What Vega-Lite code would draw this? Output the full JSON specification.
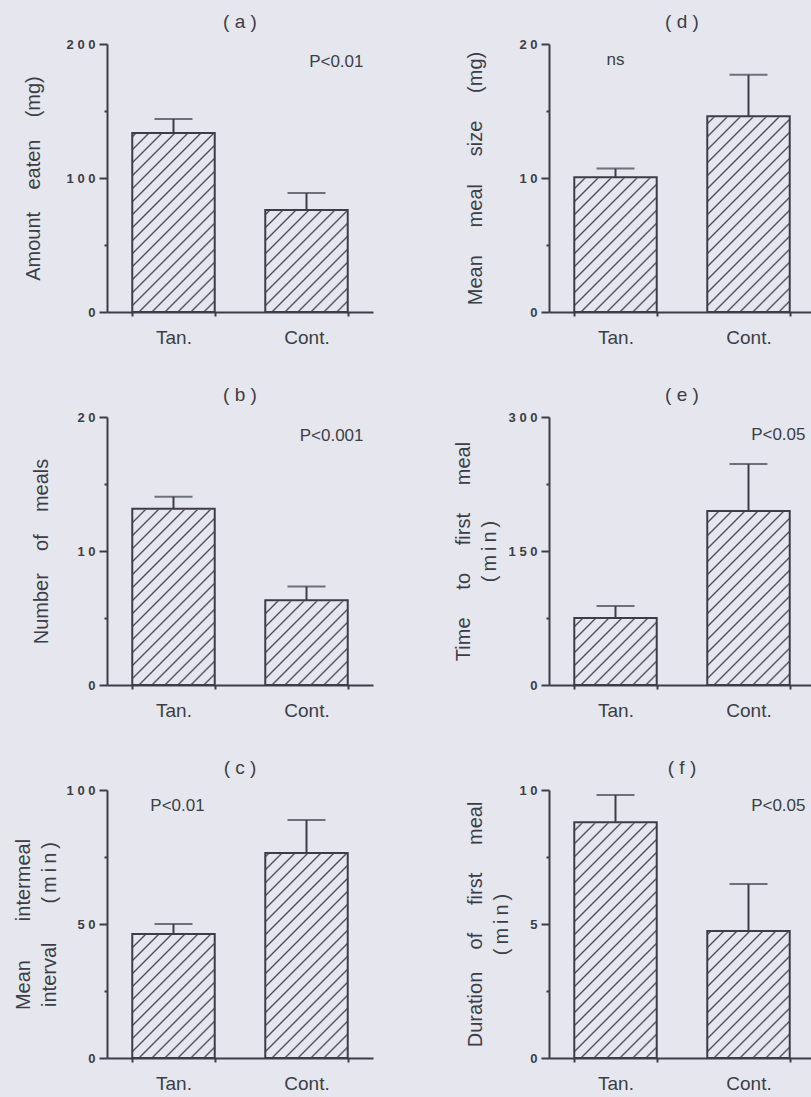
{
  "$schema": "https://vega.github.io/schema/vega-lite/v6.json",
  "background": "#e6e7ee",
  "padding": {"left": 13, "top": 13, "right": 0, "bottom": 20},
  "bounds": "flush",
  "columns": 2,
  "spacing": {"row": 105, "column": 176},
  "datasets": {
    "bars": [
      {"panel": "a", "g": "Tan.", "v": 133.6, "hi": 144.0},
      {"panel": "a", "g": "Cont.", "v": 76.1, "hi": 88.8},
      {"panel": "d", "g": "Tan.", "v": 10.05, "hi": 10.7},
      {"panel": "d", "g": "Cont.", "v": 14.6, "hi": 17.7},
      {"panel": "b", "g": "Tan.", "v": 13.16, "hi": 14.05},
      {"panel": "b", "g": "Cont.", "v": 6.32, "hi": 7.36},
      {"panel": "e", "g": "Tan.", "v": 75, "hi": 88.4},
      {"panel": "e", "g": "Cont.", "v": 194.8, "hi": 247.4},
      {"panel": "c", "g": "Tan.", "v": 46.3, "hi": 50.0},
      {"panel": "c", "g": "Cont.", "v": 76.5, "hi": 88.8},
      {"panel": "f", "g": "Tan.", "v": 8.8, "hi": 9.81},
      {"panel": "f", "g": "Cont.", "v": 4.74, "hi": 6.49}
    ],
    "notes": [
      {"panel": "a", "g": "Cont.", "y": 186.6, "t": "P<0.01"},
      {"panel": "b", "g": "Cont.", "y": 18.6, "t": "P<0.001"},
      {"panel": "c", "g": "Tan.", "y": 94, "t": "P<0.01"},
      {"panel": "d", "g": "Tan.", "y": 18.8, "t": "ns"},
      {"panel": "e", "g": "Cont.", "y": 280, "t": "P<0.05"},
      {"panel": "f", "g": "Cont.", "y": 9.4, "t": "P<0.05"}
    ]
  },
  "concat": [
    {
      "width": 266, "height": 268,
      "title": "( a )",
      "data": {"name": "bars"},
      "transform": [{"filter": "datum.panel == 'a'"}],
      "encoding": {"x": {"field": "g", "type": "nominal", "sort": ["Tan.", "Cont."], "title": null, "scale": {"paddingInner": 0.38, "paddingOuter": 0.19}}},
      "layer": [
        {"mark": {"type": "bar"},
         "encoding": {"y": {"datum": 200, "type": "quantitative", "scale": {"domain": [0, 200], "nice": false},
           "axis": {"title": "Amount\u00a0\u00a0\u00a0\u00a0eaten\u00a0\u00a0\u00a0\u00a0(mg)", "values": [0, 50, 100, 150, 200], "labelExpr": "datum.value % 100 ? '' : join(split(datum.label, ''), '\u00a0')", "tickSize": {"condition": {"test": "datum.value % 100 != 0", "value": 3}, "value": 8}, "titlePadding": 23}},
           "y2": {"datum": 0}}},
        {"mark": {"type": "bar", "fill": "#e6e7ee", "stroke": "#e6e7ee", "strokeWidth": 2}, "encoding": {"y": {"field": "v", "type": "quantitative"}, "y2": {"datum": 200}}},
        {"mark": {"type": "bar", "fill": "#e6e7ee", "fillOpacity": 0, "stroke": "#3b3e47", "strokeWidth": 2}, "encoding": {"y": {"field": "v", "type": "quantitative"}, "y2": {"datum": 0}}},
        {"mark": {"type": "rule", "color": "#3b3e47", "strokeWidth": 2}, "encoding": {"y": {"field": "v", "type": "quantitative"}, "y2": {"field": "hi"}}},
        {"mark": {"type": "tick", "size": 38, "thickness": 2, "color": "#3b3e47"}, "encoding": {"y": {"field": "hi", "type": "quantitative"}}},
        {"data": {"name": "notes"}, "transform": [{"filter": "datum.panel == 'a'"}],
         "mark": {"type": "text", "font": "Liberation Sans", "fontSize": 17, "color": "#3b3e47", "baseline": "middle", "align": "right", "dx": 57},
         "encoding": {"x": {"field": "g", "type": "nominal"}, "y": {"field": "y", "type": "quantitative"}, "text": {"field": "t"}}}
      ]
    },
    {
      "width": 266, "height": 268,
      "title": "( d )",
      "data": {"name": "bars"},
      "transform": [{"filter": "datum.panel == 'd'"}],
      "encoding": {"x": {"field": "g", "type": "nominal", "sort": ["Tan.", "Cont."], "title": null, "scale": {"paddingInner": 0.38, "paddingOuter": 0.19}}},
      "layer": [
        {"mark": {"type": "bar"},
         "encoding": {"y": {"datum": 20, "type": "quantitative", "scale": {"domain": [0, 20], "nice": false},
           "axis": {"title": "Mean\u00a0\u00a0\u00a0\u00a0\u00a0meal\u00a0\u00a0\u00a0\u00a0\u00a0size\u00a0\u00a0\u00a0\u00a0\u00a0(mg)", "values": [0, 5, 10, 15, 20], "labelExpr": "datum.value % 10 ? '' : join(split(datum.label, ''), '\u00a0')", "tickSize": {"condition": {"test": "datum.value % 10 != 0", "value": 3}, "value": 8}, "titlePadding": 33}},
           "y2": {"datum": 0}}},
        {"mark": {"type": "bar", "fill": "#e6e7ee", "stroke": "#e6e7ee", "strokeWidth": 2}, "encoding": {"y": {"field": "v", "type": "quantitative"}, "y2": {"datum": 20}}},
        {"mark": {"type": "bar", "fill": "#e6e7ee", "fillOpacity": 0, "stroke": "#3b3e47", "strokeWidth": 2}, "encoding": {"y": {"field": "v", "type": "quantitative"}, "y2": {"datum": 0}}},
        {"mark": {"type": "rule", "color": "#3b3e47", "strokeWidth": 2}, "encoding": {"y": {"field": "v", "type": "quantitative"}, "y2": {"field": "hi"}}},
        {"mark": {"type": "tick", "size": 38, "thickness": 2, "color": "#3b3e47"}, "encoding": {"y": {"field": "hi", "type": "quantitative"}}},
        {"data": {"name": "notes"}, "transform": [{"filter": "datum.panel == 'd'"}],
         "mark": {"type": "text", "font": "Liberation Sans", "fontSize": 17, "color": "#3b3e47", "baseline": "middle", "align": "center", "dx": 0},
         "encoding": {"x": {"field": "g", "type": "nominal"}, "y": {"field": "y", "type": "quantitative"}, "text": {"field": "t"}}}
      ]
    },
    {
      "width": 266, "height": 268,
      "title": "( b )",
      "data": {"name": "bars"},
      "transform": [{"filter": "datum.panel == 'b'"}],
      "encoding": {"x": {"field": "g", "type": "nominal", "sort": ["Tan.", "Cont."], "title": null, "scale": {"paddingInner": 0.38, "paddingOuter": 0.19}}},
      "layer": [
        {"mark": {"type": "bar"},
         "encoding": {"y": {"datum": 20, "type": "quantitative", "scale": {"domain": [0, 20], "nice": false},
           "axis": {"title": "Number\u00a0\u00a0\u00a0\u00a0of\u00a0\u00a0\u00a0\u00a0meals", "values": [0, 5, 10, 15, 20], "labelExpr": "datum.value % 10 ? '' : join(split(datum.label, ''), '\u00a0')", "tickSize": {"condition": {"test": "datum.value % 10 != 0", "value": 3}, "value": 8}, "titlePadding": 25}},
           "y2": {"datum": 0}}},
        {"mark": {"type": "bar", "fill": "#e6e7ee", "stroke": "#e6e7ee", "strokeWidth": 2}, "encoding": {"y": {"field": "v", "type": "quantitative"}, "y2": {"datum": 20}}},
        {"mark": {"type": "bar", "fill": "#e6e7ee", "fillOpacity": 0, "stroke": "#3b3e47", "strokeWidth": 2}, "encoding": {"y": {"field": "v", "type": "quantitative"}, "y2": {"datum": 0}}},
        {"mark": {"type": "rule", "color": "#3b3e47", "strokeWidth": 2}, "encoding": {"y": {"field": "v", "type": "quantitative"}, "y2": {"field": "hi"}}},
        {"mark": {"type": "tick", "size": 38, "thickness": 2, "color": "#3b3e47"}, "encoding": {"y": {"field": "hi", "type": "quantitative"}}},
        {"data": {"name": "notes"}, "transform": [{"filter": "datum.panel == 'b'"}],
         "mark": {"type": "text", "font": "Liberation Sans", "fontSize": 17, "color": "#3b3e47", "baseline": "middle", "align": "right", "dx": 57},
         "encoding": {"x": {"field": "g", "type": "nominal"}, "y": {"field": "y", "type": "quantitative"}, "text": {"field": "t"}}}
      ]
    },
    {
      "width": 266, "height": 268,
      "title": "( e )",
      "data": {"name": "bars"},
      "transform": [{"filter": "datum.panel == 'e'"}],
      "encoding": {"x": {"field": "g", "type": "nominal", "sort": ["Tan.", "Cont."], "title": null, "scale": {"paddingInner": 0.38, "paddingOuter": 0.19}}},
      "layer": [
        {"mark": {"type": "bar"},
         "encoding": {"y": {"datum": 300, "type": "quantitative", "scale": {"domain": [0, 300], "nice": false},
           "axis": {"title": ["Time\u00a0\u00a0\u00a0\u00a0\u00a0to\u00a0\u00a0\u00a0\u00a0\u00a0first\u00a0\u00a0\u00a0\u00a0\u00a0meal", "(\u2009m\u2009i\u2009n\u2009)"], "values": [0, 75, 150, 225, 300], "labelExpr": "datum.value % 150 ? '' : join(split(datum.label, ''), '\u00a0')", "tickSize": {"condition": {"test": "datum.value % 150 != 0", "value": 3}, "value": 8}, "titlePadding": 9}},
           "y2": {"datum": 0}}},
        {"mark": {"type": "bar", "fill": "#e6e7ee", "stroke": "#e6e7ee", "strokeWidth": 2}, "encoding": {"y": {"field": "v", "type": "quantitative"}, "y2": {"datum": 300}}},
        {"mark": {"type": "bar", "fill": "#e6e7ee", "fillOpacity": 0, "stroke": "#3b3e47", "strokeWidth": 2}, "encoding": {"y": {"field": "v", "type": "quantitative"}, "y2": {"datum": 0}}},
        {"mark": {"type": "rule", "color": "#3b3e47", "strokeWidth": 2}, "encoding": {"y": {"field": "v", "type": "quantitative"}, "y2": {"field": "hi"}}},
        {"mark": {"type": "tick", "size": 38, "thickness": 2, "color": "#3b3e47"}, "encoding": {"y": {"field": "hi", "type": "quantitative"}}},
        {"data": {"name": "notes"}, "transform": [{"filter": "datum.panel == 'e'"}],
         "mark": {"type": "text", "font": "Liberation Sans", "fontSize": 17, "color": "#3b3e47", "baseline": "middle", "align": "right", "dx": 57},
         "encoding": {"x": {"field": "g", "type": "nominal"}, "y": {"field": "y", "type": "quantitative"}, "text": {"field": "t"}}}
      ]
    },
    {
      "width": 266, "height": 268,
      "title": "( c )",
      "data": {"name": "bars"},
      "transform": [{"filter": "datum.panel == 'c'"}],
      "encoding": {"x": {"field": "g", "type": "nominal", "sort": ["Tan.", "Cont."], "title": null, "scale": {"paddingInner": 0.38, "paddingOuter": 0.19}}},
      "layer": [
        {"mark": {"type": "bar"},
         "encoding": {"y": {"datum": 100, "type": "quantitative", "scale": {"domain": [0, 100], "nice": false},
           "axis": {"title": ["Mean\u00a0\u00a0\u00a0\u00a0\u00a0\u00a0\u00a0intermeal", "interval\u00a0\u00a0\u00a0\u00a0\u00a0\u00a0\u00a0(\u2009m\u2009i\u2009n\u2009)"], "values": [0, 25, 50, 75, 100], "labelExpr": "datum.value % 50 ? '' : join(split(datum.label, ''), '\u00a0')", "tickSize": {"condition": {"test": "datum.value % 50 != 0", "value": 3}, "value": 8}, "titlePadding": 7}},
           "y2": {"datum": 0}}},
        {"mark": {"type": "bar", "fill": "#e6e7ee", "stroke": "#e6e7ee", "strokeWidth": 2}, "encoding": {"y": {"field": "v", "type": "quantitative"}, "y2": {"datum": 100}}},
        {"mark": {"type": "bar", "fill": "#e6e7ee", "fillOpacity": 0, "stroke": "#3b3e47", "strokeWidth": 2}, "encoding": {"y": {"field": "v", "type": "quantitative"}, "y2": {"datum": 0}}},
        {"mark": {"type": "rule", "color": "#3b3e47", "strokeWidth": 2}, "encoding": {"y": {"field": "v", "type": "quantitative"}, "y2": {"field": "hi"}}},
        {"mark": {"type": "tick", "size": 38, "thickness": 2, "color": "#3b3e47"}, "encoding": {"y": {"field": "hi", "type": "quantitative"}}},
        {"data": {"name": "notes"}, "transform": [{"filter": "datum.panel == 'c'"}],
         "mark": {"type": "text", "font": "Liberation Sans", "fontSize": 17, "color": "#3b3e47", "baseline": "middle", "align": "center", "dx": 4},
         "encoding": {"x": {"field": "g", "type": "nominal"}, "y": {"field": "y", "type": "quantitative"}, "text": {"field": "t"}}}
      ]
    },
    {
      "width": 266, "height": 268,
      "title": "( f )",
      "data": {"name": "bars"},
      "transform": [{"filter": "datum.panel == 'f'"}],
      "encoding": {"x": {"field": "g", "type": "nominal", "sort": ["Tan.", "Cont."], "title": null, "scale": {"paddingInner": 0.38, "paddingOuter": 0.19}}},
      "layer": [
        {"mark": {"type": "bar"},
         "encoding": {"y": {"datum": 10, "type": "quantitative", "scale": {"domain": [0, 10], "nice": false},
           "axis": {"title": ["Duration\u00a0\u00a0\u00a0\u00a0of\u00a0\u00a0\u00a0\u00a0\u00a0first\u00a0\u00a0\u00a0\u00a0\u00a0meal", "(\u2009m\u2009i\u2009n\u2009)"], "values": [0, 2.5, 5, 7.5, 10], "labelExpr": "datum.value % 5 ? '' : join(split(datum.label, ''), '\u00a0')", "tickSize": {"condition": {"test": "datum.value % 5 != 0", "value": 3}, "value": 8}, "titlePadding": 7}},
           "y2": {"datum": 0}}},
        {"mark": {"type": "bar", "fill": "#e6e7ee", "stroke": "#e6e7ee", "strokeWidth": 2}, "encoding": {"y": {"field": "v", "type": "quantitative"}, "y2": {"datum": 10}}},
        {"mark": {"type": "bar", "fill": "#e6e7ee", "fillOpacity": 0, "stroke": "#3b3e47", "strokeWidth": 2}, "encoding": {"y": {"field": "v", "type": "quantitative"}, "y2": {"datum": 0}}},
        {"mark": {"type": "rule", "color": "#3b3e47", "strokeWidth": 2}, "encoding": {"y": {"field": "v", "type": "quantitative"}, "y2": {"field": "hi"}}},
        {"mark": {"type": "tick", "size": 38, "thickness": 2, "color": "#3b3e47"}, "encoding": {"y": {"field": "hi", "type": "quantitative"}}},
        {"data": {"name": "notes"}, "transform": [{"filter": "datum.panel == 'f'"}],
         "mark": {"type": "text", "font": "Liberation Sans", "fontSize": 17, "color": "#3b3e47", "baseline": "middle", "align": "right", "dx": 57},
         "encoding": {"x": {"field": "g", "type": "nominal"}, "y": {"field": "y", "type": "quantitative"}, "text": {"field": "t"}}}
      ]
    }
  ],
  "config": {
    "font": "Liberation Sans",
    "view": {"stroke": null},
    "title": {"font": "Liberation Sans", "fontSize": 19, "fontWeight": "normal", "color": "#3b3e47", "frame": "group", "anchor": "middle", "offset": 6, "baseline": "bottom"},
    "axis": {"grid": false, "domain": true, "domainColor": "#3b3e47", "domainWidth": 2, "tickColor": "#3b3e47", "tickWidth": 2, "labelColor": "#3b3e47", "labelFont": "Liberation Sans", "labelFontSize": 13, "labelFontWeight": "bold", "labelPadding": 4, "titleFont": "Liberation Sans", "titleFontSize": 20, "titleFontWeight": "normal", "titleColor": "#3b3e47", "titleLineHeight": 26},
    "axisY": {"domain": true, "domainColor": "#3b3e47", "domainWidth": 2, "zindex": 1},
    "axisX": {"labelFontSize": 19, "labelFontWeight": "normal", "labelAngle": 0, "tickBand": "extent", "tickSize": 4, "labelPadding": 12},
    "bar": {"stroke": null, "fill": {"gradient": "linear", "x1": 0, "y1": 0, "x2": 0.368, "y2": 1.195, "stops": [
        {"offset": 0, "color": "#e6e7ee"}, {"offset": 0.0055, "color": "#4a4d57"}, {"offset": 0.011, "color": "#e6e7ee"},
        {"offset": 0.037, "color": "#e6e7ee"}, {"offset": 0.0425, "color": "#4a4d57"}, {"offset": 0.048, "color": "#e6e7ee"},
        {"offset": 0.0741, "color": "#e6e7ee"}, {"offset": 0.0796, "color": "#4a4d57"}, {"offset": 0.0851, "color": "#e6e7ee"},
        {"offset": 0.1111, "color": "#e6e7ee"}, {"offset": 0.1166, "color": "#4a4d57"}, {"offset": 0.1221, "color": "#e6e7ee"},
        {"offset": 0.1481, "color": "#e6e7ee"}, {"offset": 0.1536, "color": "#4a4d57"}, {"offset": 0.1591, "color": "#e6e7ee"},
        {"offset": 0.1852, "color": "#e6e7ee"}, {"offset": 0.1907, "color": "#4a4d57"}, {"offset": 0.1962, "color": "#e6e7ee"},
        {"offset": 0.2222, "color": "#e6e7ee"}, {"offset": 0.2277, "color": "#4a4d57"}, {"offset": 0.2332, "color": "#e6e7ee"},
        {"offset": 0.2593, "color": "#e6e7ee"}, {"offset": 0.2648, "color": "#4a4d57"}, {"offset": 0.2703, "color": "#e6e7ee"},
        {"offset": 0.2963, "color": "#e6e7ee"}, {"offset": 0.3018, "color": "#4a4d57"}, {"offset": 0.3073, "color": "#e6e7ee"},
        {"offset": 0.3333, "color": "#e6e7ee"}, {"offset": 0.3388, "color": "#4a4d57"}, {"offset": 0.3443, "color": "#e6e7ee"},
        {"offset": 0.3704, "color": "#e6e7ee"}, {"offset": 0.3759, "color": "#4a4d57"}, {"offset": 0.3814, "color": "#e6e7ee"},
        {"offset": 0.4074, "color": "#e6e7ee"}, {"offset": 0.4129, "color": "#4a4d57"}, {"offset": 0.4184, "color": "#e6e7ee"},
        {"offset": 0.4444, "color": "#e6e7ee"}, {"offset": 0.4499, "color": "#4a4d57"}, {"offset": 0.4554, "color": "#e6e7ee"},
        {"offset": 0.4815, "color": "#e6e7ee"}, {"offset": 0.487, "color": "#4a4d57"}, {"offset": 0.4925, "color": "#e6e7ee"},
        {"offset": 0.5185, "color": "#e6e7ee"}, {"offset": 0.524, "color": "#4a4d57"}, {"offset": 0.5295, "color": "#e6e7ee"},
        {"offset": 0.5556, "color": "#e6e7ee"}, {"offset": 0.5611, "color": "#4a4d57"}, {"offset": 0.5666, "color": "#e6e7ee"},
        {"offset": 0.5926, "color": "#e6e7ee"}, {"offset": 0.5981, "color": "#4a4d57"}, {"offset": 0.6036, "color": "#e6e7ee"},
        {"offset": 0.6296, "color": "#e6e7ee"}, {"offset": 0.6351, "color": "#4a4d57"}, {"offset": 0.6406, "color": "#e6e7ee"},
        {"offset": 0.6667, "color": "#e6e7ee"}, {"offset": 0.6722, "color": "#4a4d57"}, {"offset": 0.6777, "color": "#e6e7ee"},
        {"offset": 0.7037, "color": "#e6e7ee"}, {"offset": 0.7092, "color": "#4a4d57"}, {"offset": 0.7147, "color": "#e6e7ee"},
        {"offset": 0.7407, "color": "#e6e7ee"}, {"offset": 0.7462, "color": "#4a4d57"}, {"offset": 0.7517, "color": "#e6e7ee"},
        {"offset": 0.7778, "color": "#e6e7ee"}, {"offset": 0.7833, "color": "#4a4d57"}, {"offset": 0.7888, "color": "#e6e7ee"},
        {"offset": 0.8148, "color": "#e6e7ee"}, {"offset": 0.8203, "color": "#4a4d57"}, {"offset": 0.8258, "color": "#e6e7ee"},
        {"offset": 0.8519, "color": "#e6e7ee"}, {"offset": 0.8574, "color": "#4a4d57"}, {"offset": 0.8629, "color": "#e6e7ee"},
        {"offset": 0.8889, "color": "#e6e7ee"}, {"offset": 0.8944, "color": "#4a4d57"}, {"offset": 0.8999, "color": "#e6e7ee"},
        {"offset": 0.9259, "color": "#e6e7ee"}, {"offset": 0.9314, "color": "#4a4d57"}, {"offset": 0.9369, "color": "#e6e7ee"},
        {"offset": 0.963, "color": "#e6e7ee"}, {"offset": 0.9685, "color": "#4a4d57"}, {"offset": 0.974, "color": "#e6e7ee"},
        {"offset": 1, "color": "#e6e7ee"}
      ]}}
  }
}
